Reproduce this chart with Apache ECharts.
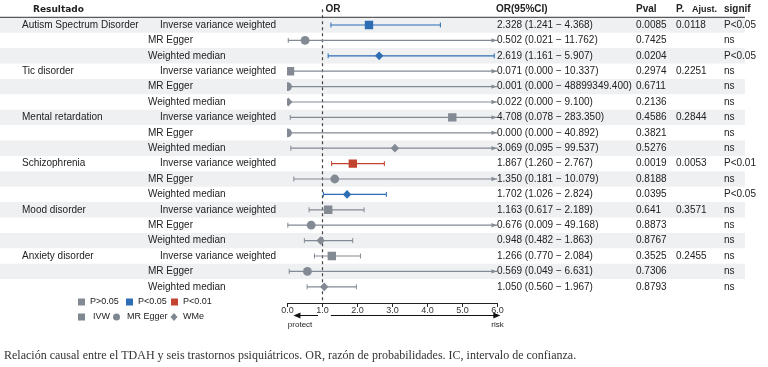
<!DOCTYPE html>
<html><head><meta charset="utf-8">
<script src="https://cdn.jsdelivr.net/npm/echarts@6/dist/echarts.min.js"></script>
<style>html,body{margin:0;padding:0;background:#fff}#c{width:768px;height:367px}</style>
</head><body><div id="c"></div>
<script>
// ---------- data ----------
const outcomes = ['Autism Spectrum Disorder','Tic disorder','Mental retardation','Schizophrenia','Mood disorder','Anxiety disorder'];
const methods = ['Inverse variance weighted','MR Egger','Weighted median'];
const methodShort = ['IVW','MR Egger','WMe'];
const orVals = [2.328,0.502,2.619, 0.071,0.001,0.022, 4.708,0.000,3.069, 1.867,1.350,1.702, 1.163,0.676,0.948, 1.266,0.569,1.050];
const ciLow  = [1.241,0.021,1.161, 0.000,0.000,0.000, 0.078,0.000,0.095, 1.260,0.181,1.026, 0.617,0.009,0.482, 0.770,0.049,0.560];
const ciHigh = [4.368,11.762,5.907, 10.337,48899349.400,9.100, 283.350,40.892,99.537, 2.767,10.079,2.824, 2.189,49.168,1.863, 2.084,6.631,1.967];
const pVals  = ['0.0085','0.7425','0.0204', '0.2974','0.6711','0.2136', '0.4586','0.3821','0.5276', '0.0019','0.8188','0.0395', '0.641','0.8873','0.8767', '0.3525','0.7306','0.8793'];
const pAdj   = ['0.0118','0.2251','0.2844','0.0053','0.3571','0.2455'];
const signif = ['P<0.05','ns','P<0.05', 'ns','ns','ns', 'ns','ns','ns', 'P<0.01','ns','P<0.05', 'ns','ns','ns', 'ns','ns','ns'];
const xTicks = [0,1,2,3,4,5,6];
const caption = 'Relación causal entre el TDAH y seis trastornos psiquiátricos. OR, razón de probabilidades. IC, intervalo de confianza.';

// ---------- style ----------
const SANS = '"Liberation Sans", Arial, sans-serif';
const colorOf = {'ns':'#838a93','P<0.05':'#2d6db4','P<0.01':'#c2432f'};
const XMAX = xTicks[xTicks.length-1], XMIN = xTicks[0];
const N = orVals.length;
const rowCats = orVals.map((_, i) => String(i));
const TXT = '#222';

const chart = echarts.init(document.getElementById('c'), null, {renderer:'canvas'});

function txt(x, y, s, opt) {
  return {type:'text', x:x, y:y, style:Object.assign({text:s, fill:TXT, font:'10px ' + SANS, textVerticalAlign:'middle', verticalAlign:'middle'}, opt||{})};
}
function marker(kind, x, y, col) {
  if (kind === 0) return {type:'rect', shape:{x:x-4.2, y:y-4.2, width:8.4, height:8.4}, style:{fill:col}};
  if (kind === 1) return {type:'circle', shape:{cx:x, cy:y, r:4.4}, style:{fill:col}};
  return {type:'polygon', shape:{points:[[x, y-4.4],[x+4.2, y],[x, y+4.4],[x-4.2, y]]}, style:{fill:col}};
}

const rowData = orVals.map((v, i) => [v, i]);

const series = [];
// bands
series.push({
  type:'custom', z:0, silent:true, clip:false,
  data: rowData,
  encode:{x:0, y:1},
  renderItem: function(params, api){
    const i = params.dataIndex;
    if (i % 2 !== 0) return null;
    const y = api.coord([XMIN, i])[1];
    const h = api.size([0, 1])[1];
    return {type:'rect', shape:{x:0, y:y-h/2, width:745, height:h}, style:{fill:'#eff0f2'}};
  }
});
// header, reference line, direction arrows
series.push({
  type:'custom', z:1, silent:true, clip:false,
  data:[[1, 0]],
  encode:{x:0, y:1},
  renderItem: function(params, api){
    const p1 = api.coord([1, 0]);
    const h = api.size([0, 1])[1];
    const top = p1[1] - h/2;
    const bottom = api.coord([1, N-1])[1] + h/2;
    const x0 = api.coord([XMIN,0])[0], x6 = api.coord([XMAX,0])[0];
    const unit = (x6 - x0) / (XMAX - XMIN);
    const ay = bottom + 21;
    const ch = [
      {type:'line', shape:{x1:0, y1:top, x2:745, y2:top}, style:{stroke:'#333', lineWidth:1}},
      {type:'line', shape:{x1:p1[0], y1:top-8, x2:p1[0], y2:bottom+6}, style:{stroke:'#444', lineWidth:1.2, lineDash:[3,3]}},
      {type:'line', shape:{x1:x0+0.87*unit, y1:ay, x2:x0+0.3*unit, y2:ay}, style:{stroke:'#111', lineWidth:1}},
      {type:'polygon', shape:{points:[[x0+0.17*unit, ay],[x0+0.37*unit, ay-3],[x0+0.37*unit, ay+3]]}, style:{fill:'#111'}},
      {type:'line', shape:{x1:x0+1.24*unit, y1:ay, x2:x6, y2:ay}, style:{stroke:'#111', lineWidth:1}},
      {type:'polygon', shape:{points:[[x6+0.08*unit, ay],[x6-0.12*unit, ay-3],[x6-0.12*unit, ay+3]]}, style:{fill:'#111'}},
      txt(x0+0.36*unit, ay+9, 'protect', {font:'8px ' + SANS, textAlign:'center', align:'center'}),
      txt(x6, ay+9, 'risk', {font:'8px ' + SANS, textAlign:'center', align:'center'}),
      txt(33, top-8, 'Resultado', {font:'bold 9px "DejaVu Sans", sans-serif'}),
      txt(p1[0]+3, top-8, 'OR', {font:'bold 10px ' + SANS}),
      txt(496, top-8, 'OR(95%CI)', {font:'bold 10px ' + SANS}),
      txt(636, top-8, 'Pval', {font:'bold 10px ' + SANS}),
      txt(676, top-8, 'P.', {font:'bold 10px ' + SANS}),
      txt(692, top-8, 'Ajust.', {font:'bold 9px ' + SANS}),
      txt(724, top-8, 'signif', {font:'bold 10px ' + SANS})
    ];
    return {type:'group', children:ch};
  }
});
// CI lines
series.push({
  type:'custom', z:2, silent:true, clip:false,
  data: rowData,
  encode:{x:0, y:1},
  renderItem: function(params, api){
    const i = params.dataIndex;
    const col = colorOf[signif[i]];
    const lo = Math.max(ciLow[i], XMIN), hi = Math.min(ciHigh[i], XMAX);
    const a = api.coord([lo, i]), b = api.coord([hi, i]);
    const y = a[1];
    const ch = [
      {type:'line', shape:{x1:a[0], y1:y, x2:b[0], y2:y}, style:{stroke:col, lineWidth:1.2}},
      {type:'line', shape:{x1:a[0], y1:y-2.5, x2:a[0], y2:y+2.5}, style:{stroke:col, lineWidth:1}}
    ];
    if (ciHigh[i] > XMAX) {
      ch.push({type:'polygon', shape:{points:[[b[0]-1, y],[b[0]-6, y-2.2],[b[0]-6, y+2.2]]}, style:{fill:col}});
    } else {
      ch.push({type:'line', shape:{x1:b[0], y1:y-2.5, x2:b[0], y2:y+2.5}, style:{stroke:col, lineWidth:1}});
    }
    return {type:'group', children:ch};
  }
});
// markers (clipped to the plot area)
series.push({
  type:'custom', z:3, silent:true, clip:true,
  data: rowData,
  encode:{x:0, y:1},
  renderItem: function(params, api){
    const i = params.dataIndex;
    const p = api.coord([orVals[i], i]);
    return marker(i % 3, p[0], p[1], colorOf[signif[i]]);
  }
});
// table text
series.push({
  type:'custom', z:4, silent:true, clip:false,
  data: rowData,
  encode:{x:0, y:1},
  renderItem: function(params, api){
    const i = params.dataIndex;
    const y = api.coord([XMIN, i])[1];
    const k = i % 3, g = Math.floor(i / 3);
    const ch = [];
    if (k === 0) ch.push(txt(22, y, outcomes[g]));
    ch.push(txt(k === 0 ? 160 : 148, y, methods[k]));
    ch.push(txt(497, y, orVals[i].toFixed(3) + ' (' + ciLow[i].toFixed(3) + ' \u2212 ' + ciHigh[i].toFixed(3) + ')'));
    ch.push(txt(636, y, pVals[i]));
    if (k === 0) ch.push(txt(676, y, pAdj[g]));
    ch.push(txt(724, y, signif[i]));
    return {type:'group', children:ch};
  }
});

// legend (graphic)
const LG = '#7f8791';
const legendY1 = 302, legendY2 = 317;
const sigKeys = ['ns','P<0.05','P<0.01'];
const sigLabels = ['P>0.05','P<0.05','P<0.01'];
const sigX = [78, 126, 171];
const graphic = [];
sigKeys.forEach((s, j) => {
  graphic.push({type:'rect', left:sigX[j], top:legendY1-3.5, shape:{width:7, height:7}, style:{fill:colorOf[s]}});
  graphic.push({type:'text', left:sigX[j]+12, top:legendY1-5, style:{text:sigLabels[j], font:'9px ' + SANS, fill:TXT}});
});
graphic.push({type:'rect', left:78, top:legendY2-3.5, shape:{width:7, height:7}, style:{fill:LG}});
graphic.push({type:'text', left:93, top:legendY2-5, style:{text:methodShort[0], font:'9px ' + SANS, fill:TXT}});
graphic.push({type:'circle', left:113, top:legendY2-3.5, shape:{r:3.5}, style:{fill:LG}});
graphic.push({type:'text', left:127, top:legendY2-5, style:{text:methodShort[1], font:'9px ' + SANS, fill:TXT}});
graphic.push({type:'polygon', shape:{points:[[174,legendY2-4],[177.5,legendY2],[174,legendY2+4],[170.5,legendY2]]}, style:{fill:LG}});
graphic.push({type:'text', left:183, top:legendY2-5, style:{text:methodShort[2], font:'9px ' + SANS, fill:TXT}});
graphic.push({type:'text', left:4, top:350, style:{text:caption, font:'12px "Liberation Serif", "Times New Roman", serif', fill:'#333'}});

chart.setOption({
  animation:false,
  backgroundColor:'#fff',
  grid:{left:287.5, width:210, top:17.3, height:277.2, containLabel:false},
  xAxis:{
    type:'value', min:XMIN, max:XMAX, interval:1, offset:8.5,
    axisLine:{show:true, lineStyle:{color:'#222', width:1}},
    axisTick:{show:true, length:4, inside:false, lineStyle:{color:'#222'}},
    splitLine:{show:false},
    axisLabel:{fontSize:9, color:'#333', margin:3, fontFamily:'Liberation Sans', formatter: v => v.toFixed(1)}
  },
  yAxis:{type:'category', data:rowCats, inverse:true, show:false},
  graphic:graphic,
  series:series
});
</script></body></html>
